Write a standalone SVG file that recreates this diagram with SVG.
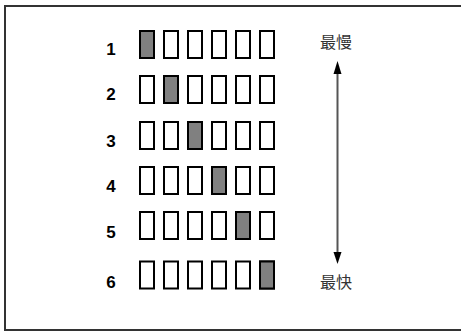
<svg xmlns="http://www.w3.org/2000/svg" width="461" height="332" viewBox="0 0 461 332">
<style>
.frame{fill:none;stroke:#333;stroke-width:2}
.cell{fill:#fff;stroke:#000;stroke-width:2}
.on{fill:#808080}
.num{font-family:"Liberation Sans",Arial,sans-serif;font-weight:bold;font-size:17px;fill:#000;text-anchor:middle}
.cjk{font-family:"Liberation Sans","Noto Sans CJK SC",sans-serif;font-size:16px;fill:#333;text-anchor:middle}
</style>
<defs>
<g id="row">
<rect class="cell" x="140" y="0" width="14" height="27"/>
<rect class="cell" x="164" y="0" width="14" height="27"/>
<rect class="cell" x="188" y="0" width="14" height="27"/>
<rect class="cell" x="212" y="0" width="14" height="27"/>
<rect class="cell" x="236" y="0" width="14" height="27"/>
<rect class="cell" x="260" y="0" width="14" height="27"/>
</g>
</defs>
<rect class="frame" x="5" y="6" width="500" height="324"/>
<g id="row1">
<text class="num" x="111" y="55">1</text>
<use href="#row" y="31"/>
<rect class="cell on" x="140" y="31" width="14" height="27"/>
</g>
<g id="row2">
<text class="num" x="111" y="100">2</text>
<use href="#row" y="76"/>
<rect class="cell on" x="164" y="76" width="14" height="27"/>
</g>
<g id="row3">
<text class="num" x="111" y="147">3</text>
<use href="#row" y="122"/>
<rect class="cell on" x="188" y="122" width="14" height="27"/>
</g>
<g id="row4">
<text class="num" x="111" y="192">4</text>
<use href="#row" y="167"/>
<rect class="cell on" x="212" y="167" width="14" height="27"/>
</g>
<g id="row5">
<text class="num" x="111" y="238">5</text>
<use href="#row" y="212"/>
<rect class="cell on" x="236" y="212" width="14" height="27"/>
</g>
<g id="row6">
<text class="num" x="111" y="288">6</text>
<use href="#row" y="261.5"/>
<rect class="cell on" x="260" y="261.5" width="14" height="27"/>
</g>
<g id="label-slow"><text class="cjk" x="336" y="48">最慢</text></g>
<g id="label-fast"><text class="cjk" x="336" y="288">最快</text></g>
<g id="connectors">
<line x1="337.5" y1="73" x2="337.5" y2="253" stroke="#555" stroke-width="2"/>
<polygon points="337.5,61 333.5,74 341.5,74" fill="#000"/>
<polygon points="337.5,264 333.5,252 341.5,252" fill="#000"/>
</g>
</svg>
